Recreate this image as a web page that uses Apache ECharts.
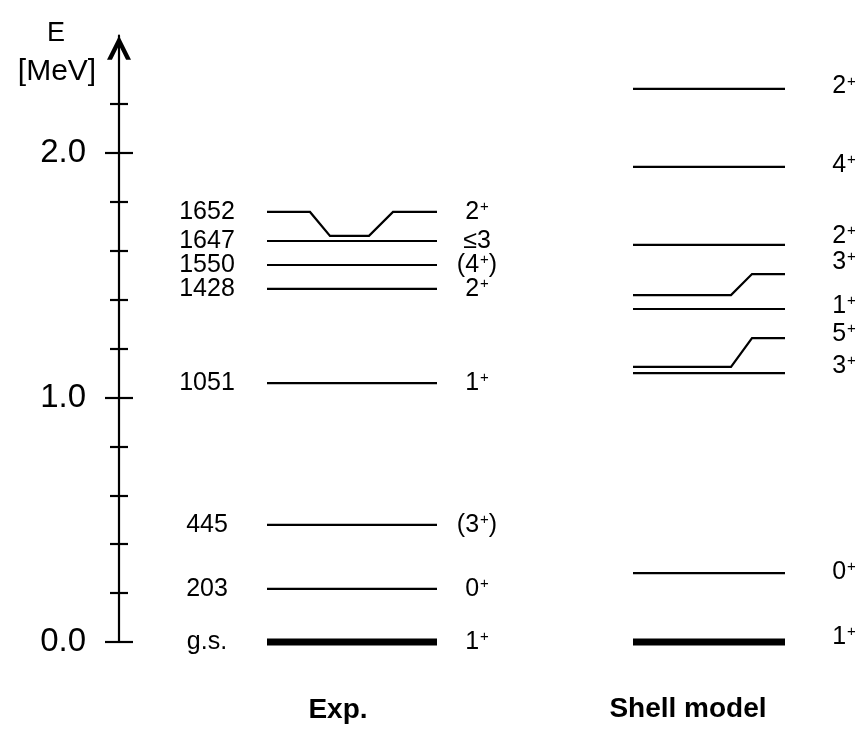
<!DOCTYPE html>
<html><head><meta charset="utf-8">
<script src="https://cdn.jsdelivr.net/npm/echarts@6/dist/echarts.min.js"></script>
<style>html,body{margin:0;padding:0;background:#fff}#c{width:865px;height:730px}</style>
</head><body><div id="c"></div>
<script>
// ---- data (energies in MeV) ----
const expEnergyLabels = ['g.s.', '203', '445', '1051', '1428', '1550', '1647', '1652'];
const expSpins = ['1+', '0+', '(3+)', '1+', '2+', '(4+)', '≤3', '2+'];
const expLevelE = [0, 0.217, 0.479, 1.059, 1.444, 1.542, 1.640, 1.759];
const expLevelDipE = [null, null, null, null, null, null, null, 1.661];
const smSpins = ['1+', '0+', '3+', '5+', '1+', '3+', '2+', '4+', '2+'];
const smLevelE = [0, 0.282, 1.100, 1.125, 1.362, 1.419, 1.624, 1.943, 2.262];
const smLevelEndE = [0, 0.282, 1.100, 1.243, 1.362, 1.505, 1.624, 1.943, 2.262];
const smSpinLabelE = [0.02, 0.286, 1.129, 1.260, 1.374, 1.554, 1.661, 1.951, 2.272];
const majorTicks = [0, 1, 2];
const minorTicks = [0.2, 0.4, 0.6, 0.8, 1.2, 1.4, 1.6, 1.8, 2.2];
const tickLabels = ['0.0', '1.0', '2.0'];
const columnTitles = ['Exp.', 'Shell model'];
const axisTitle = ['E', '[MeV]'];

// ---- layout ----
const FONT = "'Liberation Sans', Arial, Helvetica, sans-serif";
const Y_MAX = 2.48;
const EXP_X = [148, 318], EXP_DIP_X = [191, 211, 250, 274];
const SM_X = [514, 666], SM_KINK_X = [612, 633];
const EXP_LABEL_X = 88, EXP_SPIN_X = 358, SM_SPIN_X = 725;

function levelSeries(points, thick) {
  return {
    type: 'line', data: points, symbol: 'none', silent: true, clip: false, animation: false, z: 3,
    lineStyle: { color: '#000', width: thick ? 7 : 2.2, cap: 'butt', join: 'miter', opacity: 1 }
  };
}
const series = [];
expLevelE.forEach((e, i) => {
  const d = expLevelDipE[i];
  const pts = d == null ? [[EXP_X[0], e], [EXP_X[1], e]]
    : [[EXP_X[0], e], [EXP_DIP_X[0], e], [EXP_DIP_X[1], d], [EXP_DIP_X[2], d], [EXP_DIP_X[3], e], [EXP_X[1], e]];
  series.push(levelSeries(pts, e === 0));
});
smLevelE.forEach((e, i) => {
  const e2 = smLevelEndE[i];
  const pts = e2 === e ? [[SM_X[0], e], [SM_X[1], e]]
    : [[SM_X[0], e], [SM_KINK_X[0], e], [SM_KINK_X[1], e2], [SM_X[1], e2]];
  series.push(levelSeries(pts, e === 0));
});

const spinFmt = p => p.name.replace(/\+/g, '{s|+}');
const baseLabel = { show: true, position: 'inside', fontSize: 25, fontFamily: FONT, color: '#000', opacity: 1,
  textBorderWidth: 0, align: 'center', verticalAlign: 'middle' };
const spinRich = { s: { fontSize: 15, fontFamily: FONT, color: '#000', opacity: 1, verticalAlign: 'top', padding: [0, 0, 0, 1] } };
function labelSeries(data, fmt, rich) {
  return {
    type: 'scatter', symbol: 'circle', symbolSize: 1, silent: true, animation: false, clip: false, z: 4,
    itemStyle: { color: '#fff', opacity: 1 }, data,
    label: Object.assign({}, baseLabel, { formatter: fmt }, rich ? { rich } : {})
  };
}
series.push(labelSeries(expEnergyLabels.map((t, i) => ({ value: [EXP_LABEL_X, expLevelE[i]], name: t })), p => p.name));
series.push(labelSeries(expSpins.map((t, i) => ({ value: [EXP_SPIN_X, expLevelE[i]], name: t })), spinFmt, spinRich));
series.push(labelSeries(smSpins.map((t, i) => ({ value: [SM_SPIN_X, smSpinLabelE[i]], name: t })), spinFmt, spinRich));

function tickAxis(values, len, inside, main) {
  return {
    type: 'value', position: 'left', offset: 0, min: 0, max: Y_MAX,
    splitLine: { show: false },
    axisLine: main ? {
      show: true, lineStyle: { color: '#000', width: 2.2 },
      symbol: ['none', 'path://M0,22 L11,0 L22,22 L17.5,22 L11,9 L4.5,22 Z'],
      symbolSize: [24, 24], symbolOffset: [0, -12]
    } : { show: false },
    axisTick: { show: true, inside, length: len, customValues: values, lineStyle: { color: '#000', width: 2.2 } },
    axisLabel: main ? {
      show: true, customValues: majorTicks, margin: 33, fontSize: 33, fontFamily: FONT, color: '#000',
      formatter: v => { const k = majorTicks.findIndex(t => Math.abs(t - v) < 1e-6); return k >= 0 ? tickLabels[k] : ''; }
    } : { show: false }
  };
}

const chart = echarts.init(document.getElementById('c'), null, { renderer: 'canvas' });
chart.setOption({
  animation: false,
  backgroundColor: '#fff',
  grid: { left: 119, right: 0, top: 730 - 88 - Y_MAX * 244.5, bottom: 88, containLabel: false },
  xAxis: { type: 'value', min: 0, max: 746, show: false },
  yAxis: [
    tickAxis(majorTicks, 14, false, true),
    tickAxis(majorTicks, 14, true, false),
    tickAxis(minorTicks, 9, false, false),
    tickAxis(minorTicks, 9, true, false)
  ],
  series,
  graphic: [
    { type: 'text', x: 56, y: 34, style: { text: axisTitle[0], fontSize: 27, fontFamily: FONT, fill: '#000', align: 'center', verticalAlign: 'middle' } },
    { type: 'text', x: 57, y: 72, style: { text: axisTitle[1], fontSize: 30, fontFamily: FONT, fill: '#000', align: 'center', verticalAlign: 'middle' } },
    { type: 'text', x: 338, y: 710, style: { text: columnTitles[0], fontSize: 28, fontWeight: 'bold', fontFamily: FONT, fill: '#000', align: 'center', verticalAlign: 'middle' } },
    { type: 'text', x: 688, y: 709, style: { text: columnTitles[1], fontSize: 28, fontWeight: 'bold', fontFamily: FONT, fill: '#000', align: 'center', verticalAlign: 'middle' } }
  ]
});
</script></body></html>
